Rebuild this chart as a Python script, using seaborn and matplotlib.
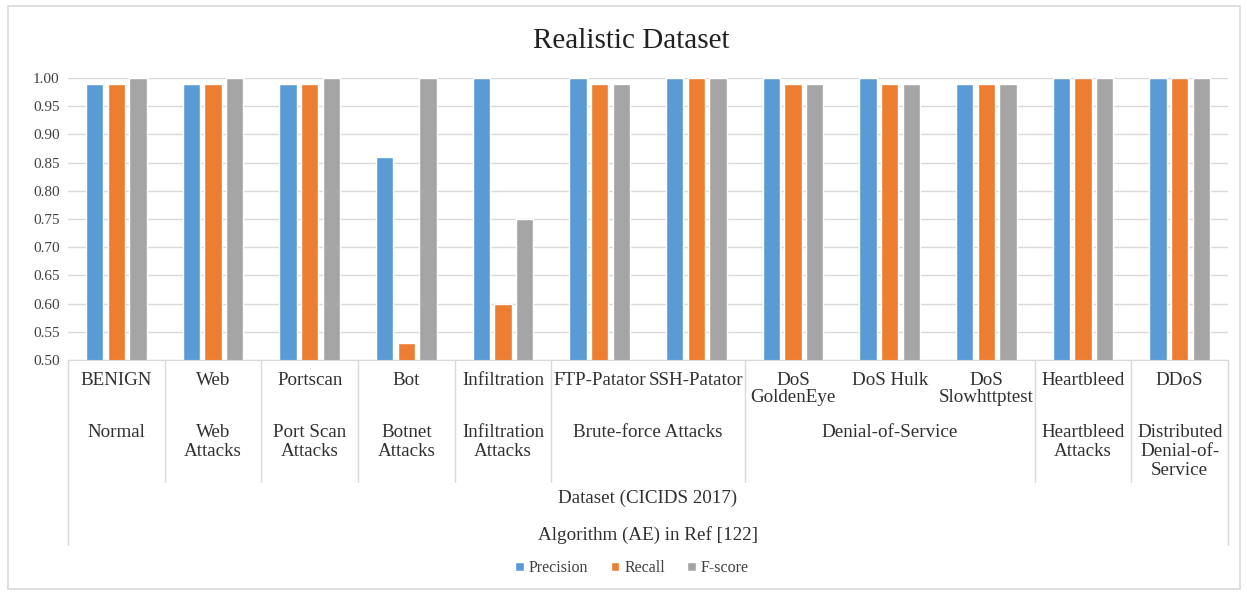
import pandas as pd
import matplotlib.pyplot as plt
import matplotlib.transforms as mtransforms
from matplotlib.patches import Rectangle
import seaborn as sns

# --- data ---
attacks = ['BENIGN', 'Web', 'Portscan', 'Bot', 'Infiltration', 'FTP-Patator',
           'SSH-Patator', 'DoS\nGoldenEye', 'DoS Hulk', 'DoS\nSlowhttptest',
           'Heartbleed', 'DDoS']
precision = [0.99, 0.99, 0.99, 0.86, 1.00, 1.00, 1.00, 1.00, 1.00, 0.99, 1.00, 1.00]
recall = [0.99, 0.99, 0.99, 0.53, 0.60, 0.99, 1.00, 0.99, 0.99, 0.99, 1.00, 1.00]
fscore = [1.00, 1.00, 1.00, 1.00, 0.75, 0.99, 1.00, 0.99, 0.99, 0.99, 1.00, 1.00]

group_labels = ['Normal', 'Web\nAttacks', 'Port Scan\nAttacks', 'Botnet\nAttacks',
                'Infiltration\nAttacks', 'Brute-force Attacks', 'Denial-of-Service',
                'Heartbleed\nAttacks', 'Distributed\nDenial-of-\nService']
group_sizes = [1, 1, 1, 1, 1, 2, 3, 1, 1]
dataset_label = 'Dataset (CICIDS 2017)'
algo_label = 'Algorithm (AE) in Ref [122]'

metrics = ['Precision', 'Recall', 'F-score']
colors = ['#5B9BD5', '#ED7D31', '#A5A5A5']

df = pd.DataFrame({'Attack': attacks * 3,
                   'Score': precision + recall + fscore,
                   'Metric': [m for m in metrics for _ in attacks]})

sns.set_style('white')
plt.rcParams['font.family'] = ['Liberation Serif', 'DejaVu Serif']

W, H = 1247, 592
fig = plt.figure(figsize=(W / 100, H / 100), dpi=100)
ax = fig.add_axes([68 / W, 1 - 360 / H, (1228 - 68) / W, (360 - 78) / H])

sns.barplot(data=df, x='Attack', y='Score', hue='Metric', palette=colors,
            saturation=1, width=0.67, gap=0.2, ax=ax, legend=True)

ax.set_ylim(0.5, 1.0)
ax.set_xlim(-0.5, len(attacks) - 0.5)
ax.set_yticks([0.5 + 0.05 * i for i in range(11)])
ax.set_yticklabels([f'{0.5 + 0.05 * i:.2f}' for i in range(11)], fontsize=11, color='#404040')
ax.yaxis.grid(True, color='#D9D9D9', linewidth=1)
ax.set_axisbelow(True)
ax.tick_params(axis='y', length=0, pad=6)
ax.set_xticks([])
ax.set_xlabel('')
ax.set_ylabel('')
for s in ['top', 'right', 'left']:
    ax.spines[s].set_visible(False)
ax.spines['bottom'].set_color('#D9D9D9')

fig.text(631 / W, 1 - 41 / H, 'Realistic Dataset', ha='center', va='center',
         fontsize=21, color='#202020')

# multi-level category axis (x in data, y in figure pixels)
trans = mtransforms.blended_transform_factory(ax.transData, fig.transFigure)
fy = lambda py: 1 - py / H
line_kw = dict(color='#D9D9D9', linewidth=1, transform=trans, clip_on=False)
txt_kw = dict(fontsize=13.7, color='#303030', transform=trans)

for i, lab in enumerate(attacks):
    ax.text(i, fy(372), lab, ha='center', va='top', linespacing=1.0, **txt_kw)

start = 0
for lab, n in zip(group_labels, group_sizes):
    ax.text(start + (n - 1) / 2, fy(424), lab, ha='center', va='top',
            linespacing=1.15, **txt_kw)
    if start > 0:
        ax.plot([start - 0.5, start - 0.5], [fy(360), fy(482)], **line_kw)
    start += n

ax.plot([-0.5, -0.5], [fy(360), fy(545)], **line_kw)
ax.plot([len(attacks) - 0.5] * 2, [fy(360), fy(545)], **line_kw)

mid = (len(attacks) - 1) / 2
ax.text(mid, fy(498), dataset_label, ha='center', va='center', **txt_kw)
ax.text(mid, fy(535), algo_label, ha='center', va='center', **txt_kw)

# legend
handles, labels = ax.get_legend_handles_labels()
ax.legend(handles, labels, loc='center', bbox_to_anchor=(632 / W, fy(568)),
          bbox_transform=fig.transFigure, ncol=3, frameon=False, fontsize=11.5,
          handlelength=0.55, handleheight=0.55, handletextpad=0.3, columnspacing=1.4,
          labelcolor='#404040')

# chart border
fig.patches.append(Rectangle((8 / W, 3 / H), 1232 / W, 583 / H, transform=fig.transFigure,
                             fill=False, edgecolor='#D9D9D9', linewidth=1.2))

fig.savefig('out.png', dpi=100)
